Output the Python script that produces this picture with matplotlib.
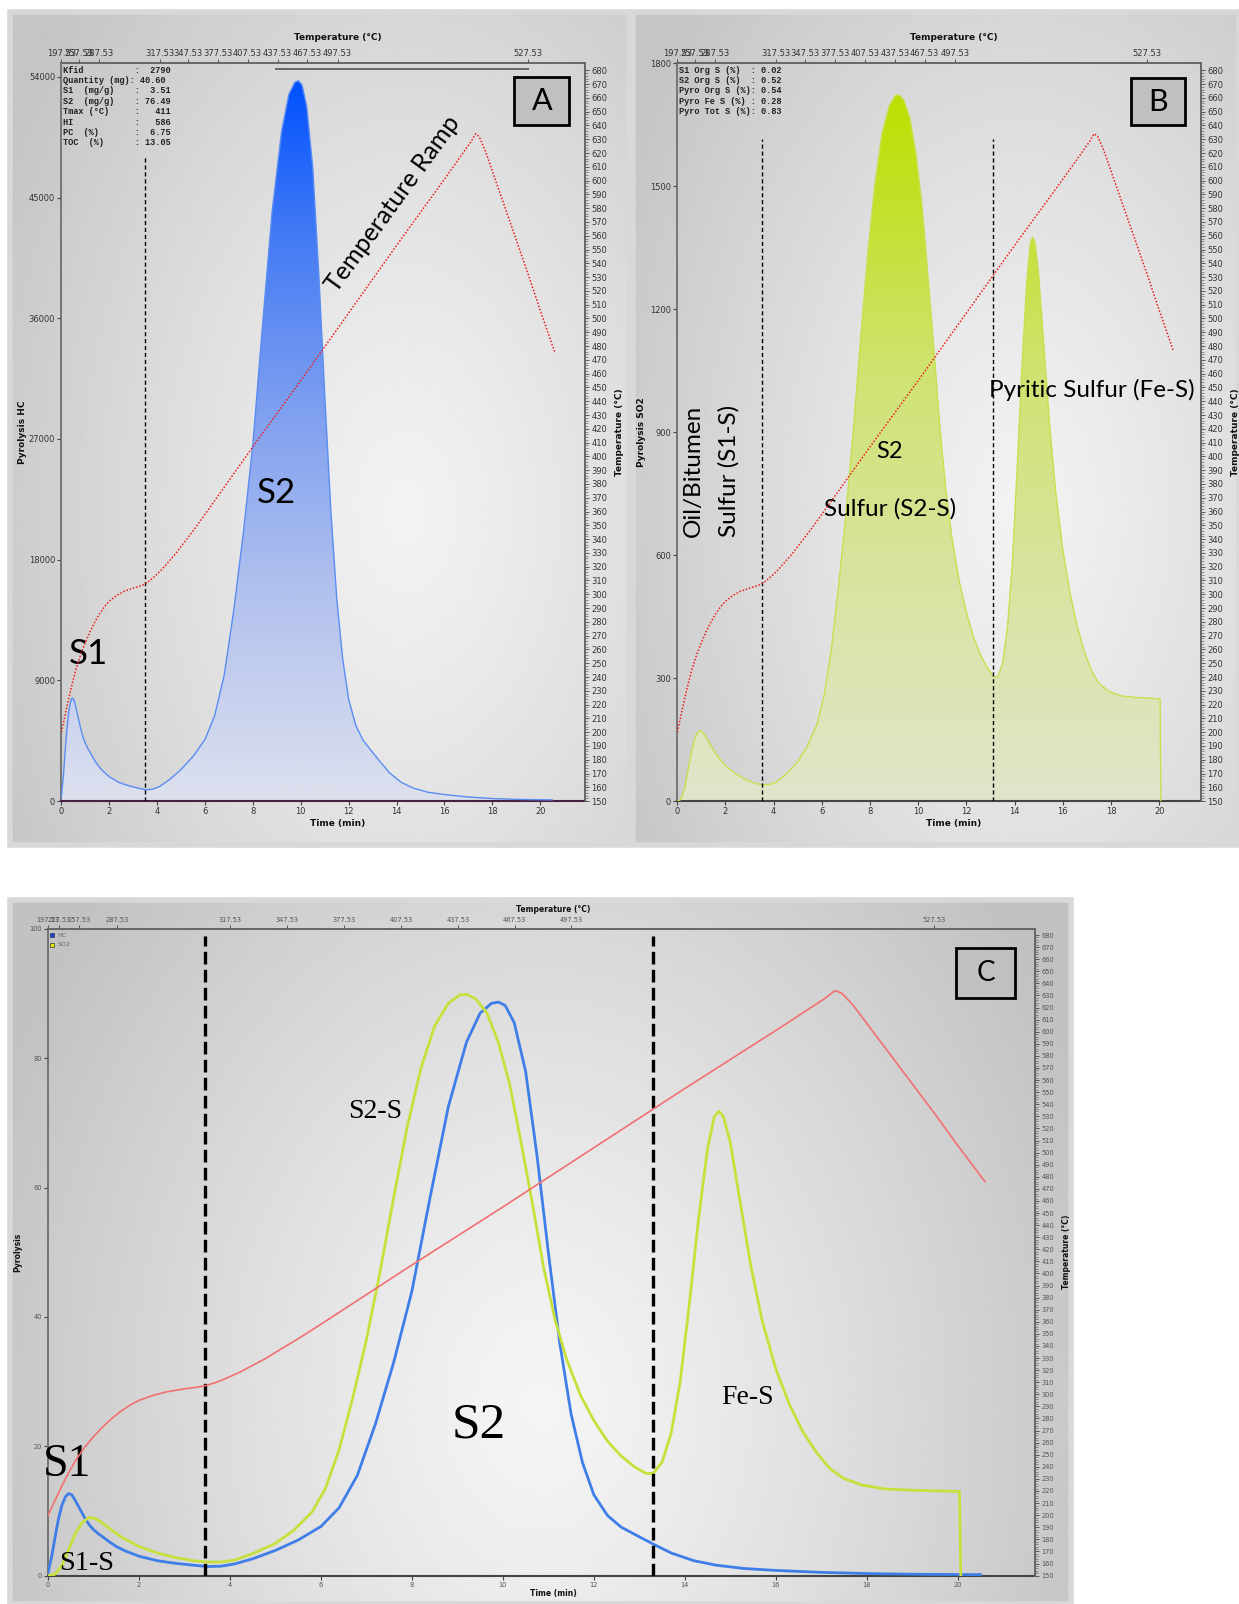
import numpy as np
import matplotlib
matplotlib.use('Agg')
import matplotlib.pyplot as plt
from matplotlib.patches import Rectangle, Polygon
from matplotlib.colors import LinearSegmentedColormap

# ---------------- data ----------------
time_temp = [0.0, 0.15, 0.3, 0.45, 0.6, 0.8, 1.0, 1.2, 1.4, 1.6, 1.8, 2.0, 2.3, 2.6, 3.0,
             3.3, 3.5, 3.7, 3.9, 4.2, 4.5, 4.8, 5.1, 5.5, 6.0, 8.0, 10.0, 12.0, 14.0, 16.0,
             17.1, 17.3, 17.45, 17.7, 18.0, 18.5, 19.0, 19.5, 20.0, 20.6]
temp_c = [200, 212, 224, 235, 245, 256, 265, 273, 280, 286, 291, 295, 299, 302, 304.5,
          306, 307.5, 310, 313, 318, 324, 330, 337, 346, 358, 407, 455, 504, 553, 601,
          628, 634, 632, 622, 607, 582, 557, 532, 506, 476]

# HC and SO2 signals in % of full scale
time_hc = [0.0, 0.08, 0.15, 0.22, 0.3, 0.38, 0.45, 0.52, 0.6, 0.7, 0.8, 0.9, 1.0, 1.1,
           1.2, 1.35, 1.5, 1.7, 2.0, 2.4, 2.8, 3.2, 3.5, 3.8, 4.1, 4.5, 5.0, 5.5, 6.0,
           6.4, 6.8, 7.2, 7.6, 8.0, 8.4, 8.8, 9.2, 9.5, 9.75, 9.9, 10.05, 10.25, 10.5,
           10.75, 11.0, 11.25, 11.5, 11.75, 12.0, 12.3, 12.6, 13.0, 13.3, 13.7, 14.2,
           14.7, 15.3, 16.0, 17.0, 18.1, 19.2, 20.5]
hc_pct = [0.5, 3.0, 5.8, 8.5, 10.8, 12.2, 12.7, 12.5, 11.6, 10.3, 9.0, 7.9, 7.1, 6.5,
          6.0, 5.2, 4.5, 3.8, 3.0, 2.3, 1.9, 1.6, 1.4, 1.45, 1.8, 2.6, 3.9, 5.5, 7.6,
          10.5, 15.5, 23.5, 33, 44, 58.5, 72.5, 82.5, 87, 88.5, 88.7, 88.2, 85.5, 78,
          65, 50, 36, 25, 17.5, 12.5, 9.3, 7.5, 6.0, 4.9, 3.5, 2.3, 1.6, 1.1, 0.8, 0.5,
          0.3, 0.2, 0.15]

time_so2 = [0.0, 0.15, 0.3, 0.45, 0.6, 0.75, 0.9, 1.05, 1.2, 1.4, 1.65, 2.0, 2.4, 2.8,
            3.2, 3.5, 3.8, 4.1, 4.5, 5.0, 5.4, 5.8, 6.1, 6.4, 6.7, 7.0, 7.3, 7.6, 7.9,
            8.2, 8.5, 8.8, 9.05, 9.2, 9.4, 9.65, 9.9, 10.15, 10.4, 10.65, 10.9, 11.15,
            11.4, 11.7, 12.0, 12.3, 12.6, 12.9, 13.15, 13.3, 13.5, 13.7, 13.9, 14.1, 14.3,
            14.5, 14.65, 14.75, 14.85, 15.0, 15.2, 15.45, 15.7, 16.0, 16.3, 16.6, 16.9,
            17.2, 17.5, 17.9, 18.4, 19.0, 19.6, 20.04, 20.07]
so2_pct = [0, 0.2, 1.5, 4.0, 6.5, 8.2, 9.0, 8.8, 8.1, 7.0, 5.8, 4.5, 3.5, 2.8, 2.3, 2.1,
           2.1, 2.4, 3.4, 5.0, 7.0, 9.8, 13.5, 19.5, 27.5, 36.5, 47, 58.5, 69.5, 78.5,
           85, 88.5, 89.8, 89.9, 89.2, 87, 82.5, 76, 67, 57.5, 47.5, 39.5, 33.5, 28, 24,
           20.8, 18.5, 16.8, 15.8, 15.8, 17.5, 22, 30, 42, 55, 66, 71, 71.8, 71, 67, 58.5,
           48, 39.5, 32, 26.5, 22.2, 19, 16.5, 15, 14, 13.4, 13.2, 13.1, 13.0, 0]

hc_full_scale = 60550     # HC detector counts equal to 100 % in panel C
so2_full_scale = 1917     # SO2 detector counts equal to 100 % in panel C

hc_info = ["Kfid          :  2790",
           "Quantity (mg): 40.60",
           "S1  (mg/g)    :  3.51",
           "S2  (mg/g)    : 76.49",
           "Tmax (\u00b0C)     :   411",
           "HI            :   586",
           "PC  (%)       :  6.75",
           "TOC  (%)      : 13.05"]
so2_info = ["S1 Org S (%)  : 0.02",
            "S2 Org S (%)  : 0.52",
            "Pyro Org S (%): 0.54",
            "Pyro Fe S (%) : 0.28",
            "Pyro Tot S (%): 0.83"]

top_pos_ab = [0.0, 0.74, 1.57, 4.1, 5.28, 6.54, 7.78, 9.03, 10.27, 11.54, 19.5]
top_lab_ab = ['197.53', '257.53', '287.53', '317.53', '347.53', '377.53', '407.53',
              '437.53', '467.53', '497.53', '527.53']
top_pos_c = [0.0, 0.25, 0.68, 1.51, 4.0, 5.25, 6.5, 7.77, 9.01, 10.26, 11.5, 19.48]
top_lab_c = ['197.53', '227.53', '257.53', '287.53', '317.53', '347.53', '377.53',
             '407.53', '437.53', '467.53', '497.53', '527.53']

boundary_a = [3.5]
boundary_b = [3.5, 13.1]
boundary_c = [3.44, 13.3]

# ---------------- figure ----------------
W, H = 1239, 1604
fig = plt.figure(figsize=(W / 100, H / 100), dpi=100)
fig.patch.set_facecolor('white')


def fr(x0, y0, x1, y1):
    return [x0 / W, 1 - y1 / H, (x1 - x0) / W, (y1 - y0) / H]


def panel_bg(rect, cx, cy, sx, sy, lo, hi):
    bg = fig.add_axes(rect, zorder=-1)
    bg.set_axis_off()
    X, Y = np.meshgrid(np.linspace(0, 1, 300), np.linspace(0, 1, 300))
    d = np.sqrt(((X - cx) / sx) ** 2 + ((Y - cy) / sy) ** 2)
    v = hi - (hi - lo) * np.clip(d, 0, 1) ** 1.2
    bg.imshow(v, cmap='gray', vmin=0, vmax=1, extent=[0, 1, 0, 1], origin='lower',
              aspect='auto', interpolation='bilinear')
    bg.set_xlim(0, 1); bg.set_ylim(0, 1)
    bg.add_patch(Rectangle((0, 0), 1, 1, transform=bg.transAxes, fill=False,
                           edgecolor='#d8d8d8', lw=4, clip_on=False))
    return bg


def gradient_fill(ax, x, y, colors):
    x = np.asarray(x, float); y = np.asarray(y, float)
    verts = np.column_stack([np.r_[x[0], x, x[-1]], np.r_[0, y, 0]])
    poly = Polygon(verts, closed=True, facecolor='none', edgecolor='none')
    ax.add_patch(poly)
    cmap = LinearSegmentedColormap.from_list('g', colors)
    grad = np.linspace(0, 1, 256).reshape(-1, 1)
    im = ax.imshow(grad, cmap=cmap, extent=[x.min(), x.max(), 0, y.max()], origin='lower',
                   aspect='auto', zorder=1, interpolation='bilinear')
    im.set_clip_path(poly)


def setup(rect, xmax, ymax, yticks, ylab, lab_pos, top_pos, top_lab, fs, tcol,
          bottom_col='#444444'):
    ax = fig.add_axes(rect)
    ax.set_facecolor('none')
    ax.set_xlim(0, xmax); ax.set_ylim(0, ymax)
    ax.set_xticks(np.arange(0, 21, 2))
    ax.set_yticks(yticks)
    ax.tick_params(direction='out', length=3, width=0.8, colors='#444444',
                   labelsize=fs, labelcolor=tcol, pad=1.5)
    for s in ['left', 'top', 'right']:
        ax.spines[s].set_color('#666666'); ax.spines[s].set_linewidth(1.2)
    ax.spines['bottom'].set_color(bottom_col); ax.spines['bottom'].set_linewidth(1.5)

    axT = ax.twinx()
    axT.set_ylim(150, 685)
    axT.set_yticks(np.arange(150, 681, 10))
    axT.set_yticks(np.arange(150, 681, 2), minor=True)
    axT.tick_params(axis='y', which='major', direction='out', length=3, width=0.7,
                    colors='#555555', labelsize=fs, labelcolor=tcol, pad=1.5)
    axT.tick_params(axis='y', which='minor', direction='out', length=1.8, width=0.5,
                    colors='#666666')
    for s in ['left', 'top', 'bottom']:
        axT.spines[s].set_visible(False)
    axT.spines['right'].set_color('#666666'); axT.spines['right'].set_linewidth(1.2)

    axTop = ax.twiny()
    axTop.set_xlim(0, xmax)
    axTop.set_xticks(top_pos)
    axTop.set_xticklabels(top_lab)
    axTop.tick_params(axis='x', direction='out', length=3, width=0.7, colors='#555555',
                      labelsize=fs, labelcolor=tcol, pad=1.0)
    for s in ['left', 'right', 'bottom']:
        axTop.spines[s].set_visible(False)
    axTop.spines['top'].set_color('#666666'); axTop.spines['top'].set_linewidth(1.2)

    lx, rx, ty, by, cx, lfs = lab_pos
    ax.text(lx, 0.5, ylab, transform=ax.transAxes, rotation=90, ha='center', va='center',
            fontsize=lfs, fontweight='bold', color='#111111')
    ax.text(rx, 0.5, 'Temperature (\u00b0C)', transform=ax.transAxes, rotation=90,
            ha='center', va='center', fontsize=lfs, fontweight='bold', color='#111111')
    ax.text(cx, ty, 'Temperature (\u00b0C)', transform=ax.transAxes, ha='center',
            va='center', fontsize=lfs, fontweight='bold', color='#111111')
    ax.text(cx, by, 'Time (min)', transform=ax.transAxes, ha='center', va='center',
            fontsize=lfs, fontweight='bold', color='#111111')
    return ax, axT, axTop


def letter_box(ax, x0, y0, x1, y1, letter, fs):
    ax.add_patch(Rectangle((x0, y0), x1 - x0, y1 - y0, transform=ax.transAxes,
                           facecolor='#c0c0c0', edgecolor='black', lw=2, zorder=6))
    ax.text((x0 + x1) / 2, (y0 + y1) / 2, letter, transform=ax.transAxes, ha='center',
            va='center', fontsize=fs, family='Lato', color='black', zorder=7)


SANS = 'Lato'
SERIF = 'Liberation Serif'

hc_counts = np.array(hc_pct) * hc_full_scale / 100
so2_counts = np.array(so2_pct) * so2_full_scale / 100

# ---------------- panel A ----------------
panel_bg(fr(10, 12, 629, 845), 0.64, 0.4, 0.75, 0.9, 0.77, 0.95)
axA, axAT, axATop = setup(fr(61.4, 63.4, 585.2, 801.1), 21.88, 55000,
                          np.arange(0, 54001, 9000), 'Pyrolysis HC',
                          (-0.074, 1.066, 1.035, -0.031, 0.527, 6.5),
                          top_pos_ab, top_lab_ab, 6, '#333333', bottom_col='#4a1f42')
gradient_fill(axA, time_hc, hc_counts,
              [(0, '#dde1ee'), (0.3, '#b0c0ee'), (0.55, '#7d9ef0'), (0.8, '#3f78f5'),
               (1, '#0050ff')])
axA.plot(time_hc, hc_counts, color='#5a8cf2', lw=1.0, zorder=3)
axA.set_xlim(0, 21.88); axA.set_ylim(0, 55000)
for b in boundary_a:
    axA.plot([b, b], [0, 48000], color='black', lw=1.0, ls=(0, (3, 2)), zorder=4)
axAT.plot(time_temp, temp_c, color='#ee1c1c', lw=1.1, ls=(0, (1, 1.2)))
axA.text(0.004, 0.997, "\n".join(hc_info), transform=axA.transAxes, ha='left', va='top',
         fontsize=6.2, family='Liberation Mono', fontweight='bold', color='#222222',
         linespacing=1.2)
# duplicated top scale fragment seen in the original export
axATop.plot([8.97, 19.5], [0.993, 0.993], transform=axATop.get_xaxis_transform(),
            color='#666666', lw=1.4, clip_on=False)
letter_box(axA, 0.865, 0.916, 0.969, 0.981, 'A', 22)
axA.text(8.97, 23000, 'S2', fontsize=25, family=SANS, ha='center', va='center', zorder=5)
axA.text(1.11, 11000, 'S1', fontsize=25, family=SANS, ha='center', va='center', zorder=5)
axA.text(13.85, 44500, 'Temperature Ramp', fontsize=18, family=SANS, rotation=54,
         rotation_mode='anchor', ha='center', va='center', zorder=5)

# ---------------- panel B ----------------
panel_bg(fr(633, 12, 1239, 845), 0.64, 0.4, 0.75, 0.9, 0.77, 0.95)
axB, axBT, axBTop = setup(fr(677.3, 63.4, 1201.1, 801.1), 21.74, 1800,
                          np.arange(0, 1801, 300), 'Pyrolysis SO2',
                          (-0.068, 1.066, 1.035, -0.031, 0.527, 6.5),
                          top_pos_ab, top_lab_ab, 6, '#333333')
gradient_fill(axB, time_so2, so2_counts,
              [(0, '#e1e5cb'), (0.3, '#d9e4a2'), (0.6, '#cfe373'), (0.85, '#c4e02a'),
               (1, '#bce000')])
axB.plot(time_so2, so2_counts, color='#c6e04e', lw=1.0, zorder=3)
axB.set_xlim(0, 21.74); axB.set_ylim(0, 1800)
for b in boundary_b:
    axB.plot([b, b], [0, 1615], color='black', lw=1.0, ls=(0, (3, 2)), zorder=4)
axBT.plot(time_temp, temp_c, color='#ee1c1c', lw=1.1, ls=(0, (1, 1.2)))
axB.text(0.004, 0.997, "\n".join(so2_info), transform=axB.transAxes, ha='left', va='top',
         fontsize=6.2, family='Liberation Mono', fontweight='bold', color='#222222',
         linespacing=1.2)
letter_box(axB, 0.866, 0.916, 0.969, 0.980, 'B', 22)
axB.text(0.68, 805, 'Oil/Bitumen', fontsize=17.5, family=SANS, rotation=90, ha='center',
         va='center', zorder=5)
axB.text(2.12, 805, 'Sulfur (S1-S)', fontsize=17.5, family=SANS, rotation=90,
         ha='center', va='center', zorder=5)
axB.text(8.79, 853, 'S2', fontsize=17, family=SANS, ha='center', va='center', zorder=5)
axB.text(8.83, 713, 'Sulfur (S2-S)', fontsize=17.5, family=SANS, ha='center',
         va='center', zorder=5)
axB.text(17.2, 1002, 'Pyritic Sulfur (Fe-S)', fontsize=17.5, family=SANS, ha='center',
         va='center', zorder=5)

# ---------------- panel C ----------------
panel_bg(fr(10, 900, 1071, 1604), 0.5, 0.28, 0.56, 1.1, 0.76, 0.96)
axC, axCT, axCTop = setup(fr(48.1, 929, 1035.4, 1575.6), 21.71, 100,
                          np.arange(0, 101, 20), 'Pyrolysis',
                          (-0.031, 1.031, 1.030, -0.028, 0.512, 5.5),
                          top_pos_c, top_lab_c, 4.8, '#555555')
axCT.plot(time_temp, temp_c, color='#f27070', lw=1.2)
axC.plot(time_hc, hc_pct, color='#3f7ee8', lw=2.0, zorder=3)
axC.plot(time_so2, so2_pct, color='#c8e03c', lw=2.0, zorder=3)
for b in boundary_c:
    axC.plot([b, b], [0, 98.9], color='black', lw=2.4, ls=(0, (3.8, 1.6)), zorder=4)
axC.plot([0.09], [99.0], 's', ms=3.5, color='#1a3fe0', mec='#333333', mew=0.5)
axC.plot([0.09], [97.6], 's', ms=3.5, color='#e0f000', mec='#333333', mew=0.5)
axC.text(0.2, 99.0, 'HC', fontsize=4.5, color='#666666', va='center')
axC.text(0.2, 97.6, 'SO2', fontsize=4.5, color='#666666', va='center')
letter_box(axC, 0.920, 0.893, 0.979, 0.970, 'C', 20)
axC.text(7.2, 71.8, 'S2-S', fontsize=20, family=SERIF, ha='center', va='center', zorder=5)
axC.text(9.47, 23.3, 'S2', fontsize=37, family=SERIF, ha='center', va='center', zorder=5)
axC.text(15.37, 27.5, 'Fe-S', fontsize=20, family=SERIF, ha='center', va='center', zorder=5)
axC.text(0.42, 17.1, 'S1', fontsize=33, family=SERIF, ha='center', va='center', zorder=5)
axC.text(0.85, 1.9, 'S1-S', fontsize=20.5, family=SERIF, ha='center', va='center', zorder=5)

fig.savefig('out.png', dpi=100, facecolor='white')
